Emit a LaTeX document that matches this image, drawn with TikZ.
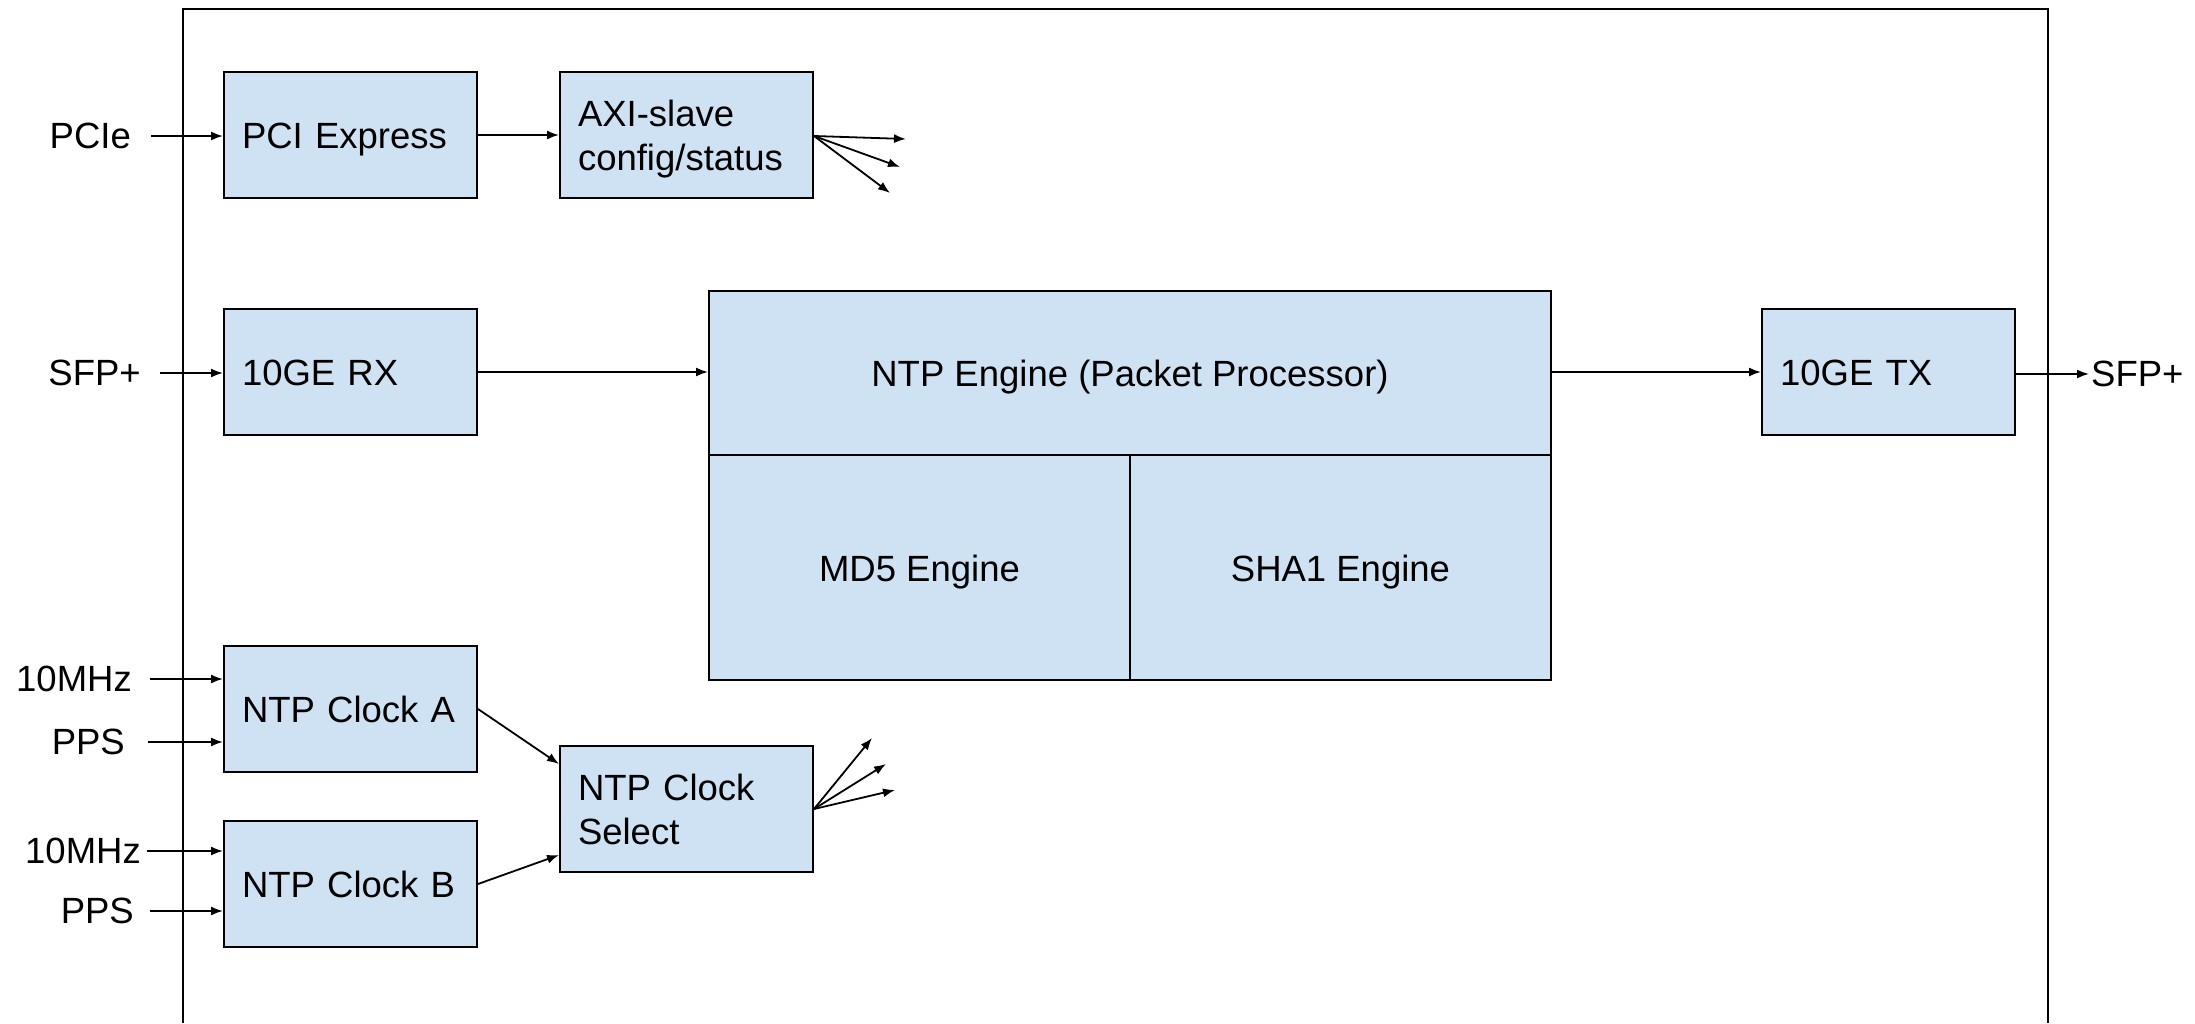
\documentclass[tikz,border=0pt]{standalone}
\usepackage{fontspec}
\setmainfont{Liberation Sans}
\usetikzlibrary{arrows.meta}
\definecolor{blockfill}{HTML}{CFE2F3}
\begin{document}
\begin{tikzpicture}[x=1pt,y=-1pt,
  txt/.style={font=\fontsize{36.5}{44}\selectfont, inner sep=0pt},
  block/.style={txt, draw=black, line width=2pt, fill=blockfill,
    minimum height=126pt, text width=217pt, inner xsep=18pt, align=left,
    text height=27pt, text depth=0pt, anchor=north west},
  twoline/.style={text depth=44pt},
  cell/.style={txt, draw=black, line width=2pt, fill=blockfill, align=center,
    text height=27pt, text depth=0pt, anchor=north west},
  arr/.style={line width=1.8pt, -{Latex[length=12pt,width=9pt]}}
]
\useasboundingbox (0,0) rectangle (2195,1023);
\fill[white] (0,0) rectangle (2195,1023);

% chip outline, open at the bottom
\draw[line width=2.5pt] (183,1023) -- (183,9) -- (2048,9) -- (2048,1023);

% blocks
\node[block] (pci)  at (223,71)  {PCI Express};
\node[block, twoline] (axi)  at (559,71)  {AXI-slave\\config/status};
\node[block] (rx)   at (223,308) {10GE RX};
\node[block] (tx)   at (1761,308) {10GE TX};
\node[block] (clka) at (223,645) {NTP Clock A};
\node[block] (clkb) at (223,820) {NTP Clock B};
\node[block, twoline] (sel)  at (559,745) {NTP Clock\\Select};

% NTP engine with its hash engines
\node[cell, minimum width=842pt, minimum height=164pt] (ntp) at (708,290) {NTP Engine (Packet Processor)};
\node[cell, minimum width=421pt, minimum height=225pt] (md5) at (708,454) {MD5 Engine};
\node[cell, minimum width=421pt, minimum height=225pt] (sha) at (1129,454) {SHA1 Engine};

% external signals
\node[txt, anchor=east] (pcie)  at (131,136) {PCIe};
\node[txt, anchor=east] (sfpin) at (141,373) {SFP+};
\node[txt, anchor=east] (mhza)  at (132,679) {10MHz};
\node[txt, anchor=east] (ppsa)  at (125,742) {PPS};
\node[txt, anchor=east] (mhzb)  at (141,851) {10MHz};
\node[txt, anchor=east] (ppsb)  at (134,911) {PPS};
\node[txt, anchor=west] (sfpout) at (2091,374) {SFP+};

% inputs
\draw[arr] ([xshift=20pt]pcie.east) -- (pcie.east -| pci.west);
\draw[arr] ([xshift=19pt]sfpin.east) -- (sfpin.east -| rx.west);
\draw[arr] ([xshift=18pt]mhza.east) -- (mhza.east -| clka.west);
\draw[arr] ([xshift=23pt]ppsa.east) -- (ppsa.east -| clka.west);
\draw[arr] ([xshift=6pt]mhzb.east) -- (mhzb.east -| clkb.west);
\draw[arr] ([xshift=16pt]ppsb.east) -- (ppsb.east -| clkb.west);

% data path
\draw[arr] (pci.east) -- (axi.west);
\draw[arr] (rx.east) -- (rx.east -| ntp.west);
\draw[arr] (ntp.east |- tx.west) -- (tx.west);
\draw[arr] (sfpout.west -| tx.east) -- ([xshift=-2pt]sfpout.west);

% clock selection
\draw[arr] (clka.east) -- ([yshift=45pt]sel.west);
\draw[arr] (clkb.east) -- ([yshift=-46pt]sel.west);

% fan-out from AXI-slave
\coordinate (axo) at ([yshift=-1pt]axi.east);
\coordinate (ax1) at (906,139);
\coordinate (ax2) at (900,167);
\coordinate (ax3) at (890,193);
\draw[arr] (axo) -- (ax1);
\draw[arr] (axo) -- (ax2);
\draw[arr] (axo) -- (ax3);

% fan-out from clock select
\coordinate (sco) at (sel.east);
\coordinate (sc1) at (872,738);
\coordinate (sc2) at (886,764);
\coordinate (sc3) at (895,790);
\draw[arr] (sco) -- (sc1);
\draw[arr] (sco) -- (sc2);
\draw[arr] (sco) -- (sc3);
\end{tikzpicture}
\end{document}
